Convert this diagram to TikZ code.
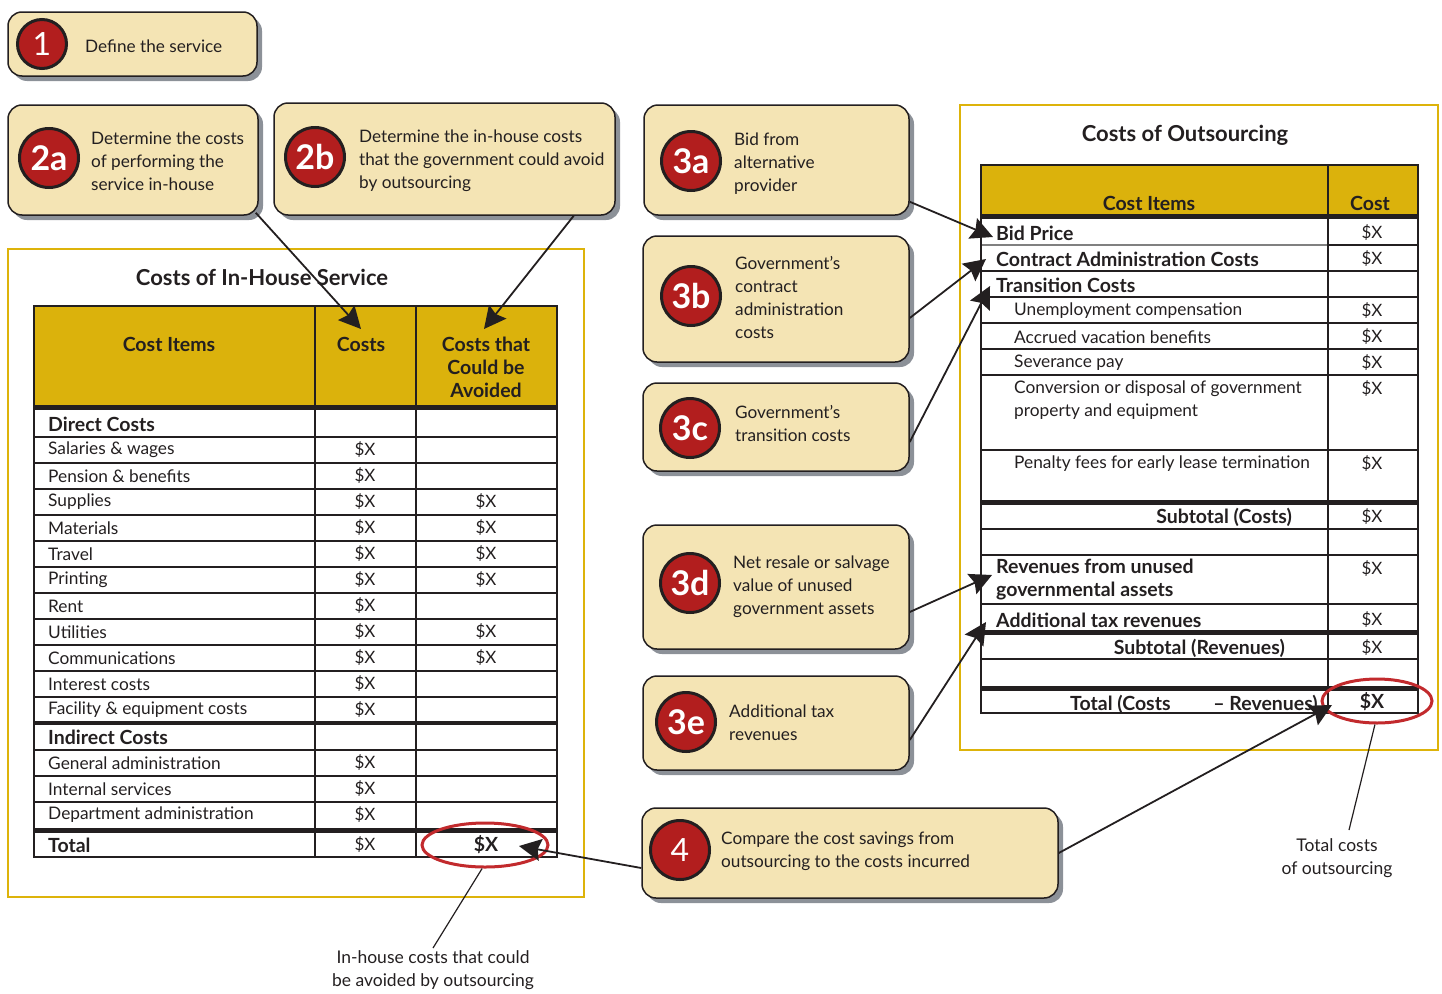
\documentclass[tikz,border=0pt]{standalone}
\usepackage{fontspec}
\setmainfont{Lato}
\usetikzlibrary{arrows.meta,shadows,shapes.geometric,calc}
\definecolor{boxfill}{HTML}{F4E4B4}
\definecolor{gold}{HTML}{DBB20C}
\definecolor{panel}{HTML}{DDB30A}
\definecolor{stepred}{HTML}{B21E1E}
\definecolor{ring}{HTML}{C22A2D}
\definecolor{ink}{HTML}{231F20}
\definecolor{shade}{HTML}{8C9198}

\begin{document}
\begin{tikzpicture}[x=1pt,y=-1pt,
  stepbox/.style={draw=ink,line width=1.5pt,fill=boxfill,rounded corners=14pt,
    drop shadow={shadow xshift=5pt,shadow yshift=-5pt,fill=shade,opacity=1}},
  num/.style={circle,draw=ink,line width=3pt,fill=stepred,text=white,inner sep=0pt,
    minimum size=59pt,font=\fontsize{34}{34}\selectfont\bfseries},
  steptext/.style={anchor=west,align=left,inner sep=0pt,text=ink,font=\fontsize{17.2}{23}\selectfont},
  title/.style={text=ink,inner sep=0pt,font=\fontsize{22}{23}\selectfont\bfseries},
  head/.style={text=ink,inner sep=0pt,align=center,font=\fontsize{19.5}{23}\selectfont\bfseries},
  item/.style={anchor=west,inner sep=0pt,text=ink,align=left,font=\fontsize{17.3}{23}\selectfont},
  bolditem/.style={item,font=\fontsize{19.5}{23}\selectfont\bfseries},
  val/.style={text=ink,inner sep=0pt,font=\fontsize{17}{20}\selectfont},
  boldval/.style={val,font=\fontsize{19.5}{20}\selectfont\bfseries},
  note/.style={text=ink,inner sep=2pt,align=center,font=\fontsize{17.5}{23}\selectfont},
  grid/.style={draw=ink,line width=1.6pt},
  band/.style={fill=ink},
  conn/.style={draw=ink,line width=1.8pt,-{Stealth[length=22pt,width=22pt,inset=3pt]}},
  leader/.style={draw=ink,line width=1.2pt},
  oval/.style={ellipse,draw=ring,line width=3pt,inner sep=0pt}]
  \useasboundingbox (0,0) rectangle (1442,993);

  % panels
  \draw[panel,line width=2pt] (8,249) rectangle (584,897);
  \draw[panel,line width=2pt] (960,105) rectangle (1438,750);
  \node[title] (tin) at (262,277) {Costs of In-House Service};
  \node[title] (tout) at (1185,135) {Costs of Outsourcing};

  % in-house table
  \fill[gold] (34,306) rectangle (557,405);
  \fill[band] (34,405) rectangle (557,410);
  \fill[band] (34,721) rectangle (557,725);
  \fill[band] (34,828) rectangle (557,833);
  \foreach \y in {437,463,489,515,541,567,593,619,645,671,697,750,776,802}
    \draw[grid] (34,\y) -- (557,\y);
  \draw[grid] (315,306) -- (315,857);
  \draw[grid] (416,306) -- (416,857);
  \draw[grid] (34,306) rectangle (557,857);
  \node[head] (hitems) at (169,344) {Cost Items};
  \node[head] (hcosts) at (361,344) {Costs};
  \node[head] (hav) at (486,367) {Costs that\\Could be\\Avoided};
  \node[bolditem] (direct) at (48,424) {Direct Costs};
  \node[bolditem] (indirect) at (48,737) {Indirect Costs};
  \node[bolditem] (total) at (48,845) {Total};
  \foreach \y/\txt in {450/Salaries \& wages,476/Pension \& benefits,502/Supplies,
      528/Materials,554/Travel,580/Printing,606/Rent,632/Utilities,658/Communications,
      684/Interest costs,710/Facility \& equipment costs,763/General administration,
      789/Internal services,815/Department administration}
    \node[item] (in\y) at (48,\y) {\txt};
  \foreach \y in {450,476,502,528,554,580,606,632,658,684,710,763,789,815,845}
    \node[val] (cost\y) at (365,\y) {\$X};
  \foreach \y in {502,528,554,580,632,658}
    \node[val] (av\y) at (486,\y) {\$X};
  \node[boldval] (avtotal) at (486,845) {\$X};

  % outsourcing table
  \fill[gold] (981,165) rectangle (1418,214);
  \fill[band] (981,214) rectangle (1418,219);
  \fill[band] (981,500) rectangle (1418,505);
  \fill[band] (981,630) rectangle (1418,635);
  \fill[band] (981,686) rectangle (1418,691);
  \draw[gray,line width=1.2pt] (981,245) -- (1328,245);
  \draw[grid] (1328,245) -- (1418,245);
  \foreach \y in {271,297,323,349,375,450,529,555,604,659}
    \draw[grid] (981,\y) -- (1418,\y);
  \draw[grid] (1328,165) -- (1328,713);
  \draw[grid] (981,165) rectangle (1418,713);
  \node[head] (oitems) at (1149,203) {Cost Items};
  \node[head] (ocost) at (1370,203) {Cost};
  \node[bolditem] (bid) at (996,233) {Bid Price};
  \node[bolditem] (admin) at (996,259) {Contract Administration Costs};
  \node[bolditem] (trans) at (996,285) {Transition Costs};
  \node[item] (unemp) at (1014,311) {Unemployment compensation};
  \node[item] (vac) at (1014,337) {Accrued vacation benefits};
  \node[item] (sev) at (1014,363) {Severance pay};
  \node[item] (conv) at (1014,400) {Conversion or disposal of government\\property and equipment};
  \node[item] (pen) at (1014,464) {Penalty fees for early lease termination};
  \node[bolditem,anchor=east] (subc) at (1292,517) {Subtotal (Costs)};
  \node[bolditem] (rev) at (996,580) {Revenues from unused\\governmental assets};
  \node[bolditem] (tax) at (996,620) {Additional tax revenues};
  \node[bolditem,anchor=east] (subr) at (1285,648) {Subtotal (Revenues)};
  \node[bolditem] (tot1) at (1070,704) {Total (Costs};
  \node[bolditem,anchor=east] (tot2) at (1318,704) {– Revenues)};
  \foreach \y in {233,259,311,337,363,389,464,517,569,620,648}
    \node[val] (out\y) at (1372,\y) {\$X};
  \node[boldval] (outtotal) at (1372,702) {\$X};

  % rings and notes
  \node[oval,minimum width=126pt,minimum height=44pt] (ringin) at (485,845) {};
  \node[oval,minimum width=110pt,minimum height=44pt] (ringout) at (1377,701) {};
  \node[note,anchor=north] (notein) at (433,948) {In-house costs that could\\be avoided by outsourcing};
  \node[note,anchor=north] (noteout) at (1337,836) {Total costs\\of outsourcing};
  \draw[leader] (ringin.-97) -- (notein.north);
  \draw[leader] (ringout.-95) -- ($(noteout.north)+(12,-6)$);

  % steps
  \node[stepbox,minimum width=249pt,minimum height=64pt] (s1) at (132.5,44) {};
  \node[num,minimum size=49pt,font=\fontsize{32}{32}\selectfont] (n1) at (42,44) {1};
  \node[steptext] (t1) at (85,46) {Define the service};

  \node[stepbox,minimum width=250pt,minimum height=110pt] (s2a) at (133,160) {};
  \node[num] (n2a) at (49,158) {2a};
  \node[steptext] (t2a) at (91,161) {Determine the costs\\of performing the\\service in-house};

  \node[stepbox,minimum width=341pt,minimum height=112pt] (s2b) at (444.5,159) {};
  \node[num] (n2b) at (315,157) {2b};
  \node[steptext] (t2b) at (359,161) {Determine the in-house costs\\that the government could avoid\\by outsourcing};

  \node[stepbox,minimum width=265pt,minimum height=110pt] (s3a) at (776.5,160) {};
  \node[num] (n3a) at (691,161) {3a};
  \node[steptext] (t3a) at (734,164) {Bid from\\alternative\\provider};

  \node[stepbox,minimum width=266pt,minimum height=126pt] (s3b) at (776,299) {};
  \node[num] (n3b) at (691,296) {3b};
  \node[steptext] (t3b) at (735,297) {Government’s\\contract\\administration\\costs};

  \node[stepbox,minimum width=266pt,minimum height=88pt] (s3c) at (776,427) {};
  \node[num] (n3c) at (690,428) {3c};
  \node[steptext] (t3c) at (735,423) {Government’s\\transition costs};

  \node[stepbox,minimum width=266pt,minimum height=124pt] (s3d) at (776,587) {};
  \node[num] (n3d) at (690,583) {3d};
  \node[steptext] (t3d) at (733,587) {Net resale or salvage\\value of unused\\government assets};

  \node[stepbox,minimum width=266pt,minimum height=94pt] (s3e) at (776,723) {};
  \node[num] (n3e) at (686,722) {3e};
  \node[steptext] (t3e) at (729,723) {Additional tax\\revenues};

  \node[stepbox,minimum width=416pt,minimum height=90pt] (s4) at (850,853) {};
  \node[num,font=\fontsize{32}{32}\selectfont] (n4) at (680,850) {4};
  \node[steptext] (t4) at (721,851) {Compare the cost savings from\\outsourcing to the costs incurred};

  % arrow ends
  \coordinate (toCosts) at (361,329);
  \coordinate (toAvoid) at (484,329);
  \coordinate (toBid) at (993,237);
  \coordinate (toAdmin) at (986,259);
  \coordinate (toTrans) at (990,286);
  \coordinate (toRev) at (992,575);
  \coordinate (toTax) at (986,622);
  \coordinate (toSave) at (519,846);
  \coordinate (toTotal) at (1332,705);

  % connectors
  \draw[conn] ($(s2a.south east)+(-3,-3)$) -- (toCosts);
  \draw[conn] ($(s2b.south east)+(-42,0)$) -- (toAvoid);
  \draw[conn] ($(s3a.south east)+(0,-14)$) -- (toBid);
  \draw[conn] ($(s3b.east)+(0,19)$) -- (toAdmin);
  \draw[conn] ($(s3c.east)+(0,15)$) -- (toTrans);
  \draw[conn] ($(s3d.east)+(0,25)$) -- (toRev);
  \draw[conn] ($(s3e.east)+(0,17)$) -- (toTax);
  \draw[conn] ($(s4.west)+(0,15)$) -- (toSave);
  \draw[conn] (s4.east) -- (toTotal);
\end{tikzpicture}
\end{document}
